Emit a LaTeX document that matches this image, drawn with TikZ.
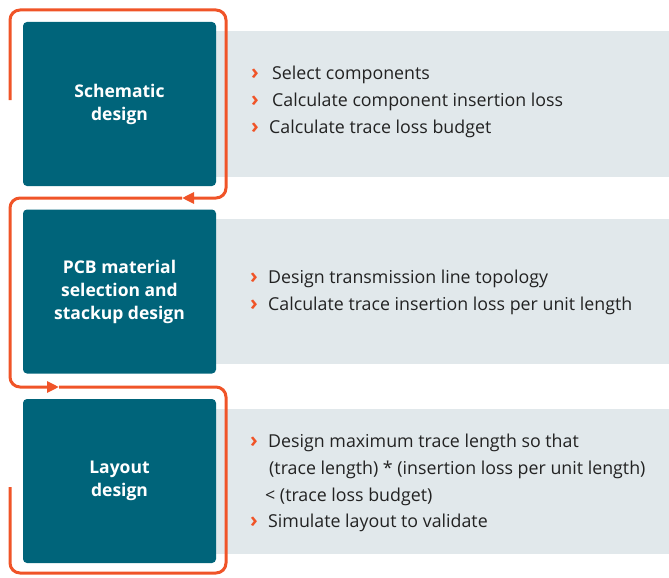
\documentclass[tikz,border=0pt]{standalone}
\usepackage{fontspec}
\setmainfont{Open Sans}
\usetikzlibrary{arrows.meta,positioning,backgrounds}
\definecolor{stepblue}{RGB}{0,100,122}
\definecolor{panelgray}{RGB}{225,232,235}
\definecolor{looporange}{RGB}{240,84,40}
\definecolor{bullettext}{RGB}{34,34,34}
\newcommand{\chev}{\makebox[18pt][l]{\textcolor{looporange}{\fontsize{21}{21}\selectfont\textbf{›}}}}

\begin{document}
\begin{tikzpicture}[
    x=1pt, y=-1pt,
    >={Triangle[length=12pt,width=11pt]},
    stepbox/.style={rectangle, rounded corners=4pt, fill=stepblue, minimum width=193pt, minimum height=164pt,
        text=white, align=center, font=\fontsize{17.5}{23}\selectfont\bfseries, inner sep=0pt},
    panel/.style={rectangle, fill=panelgray, minimum width=453pt, minimum height=145pt, inner sep=0pt},
    items/.style={anchor=west, align=left, text=bullettext, font=\fontsize{17.8}{26.8}\selectfont, inner sep=0pt},
    loop/.style={draw=looporange, line width=3pt, rounded corners=10pt}
]
    \useasboundingbox (0,0) rectangle (669,578);

    % steps
    \node[stepbox] (schem) at (119.5,104) {Schematic\\design};
    \node[stepbox] (pcb) at (119.5,291.5) {PCB material\\selection and\\stackup design};
    \node[stepbox] (layout) at (119.5,481) {Layout\\design};

    % panels behind the steps
    \begin{scope}[on background layer]
        \node[panel, right=0pt of schem] (p1) {};
        \node[panel, right=0pt of pcb] (p2) {};
        \node[panel, right=0pt of layout] (p3) {};
    \end{scope}

    \node[items] (l1) at (251,102) {\chev\hspace{3pt}Select components\\\chev\hspace{3pt}Calculate component insertion loss\\\chev Calculate trace loss budget};
    \node[items] (l2) at (250,292.5) {\chev Design transmission line topology\\\chev Calculate trace insertion loss per unit length};
    \node[items] (l3) at (250,483) {\chev Design maximum trace length so that\\\hspace{19pt}(trace length) * (insertion loss per unit length)\\\hspace{15pt}< (trace loss budget)\\\chev Simulate layout to validate};

    % loop around the steps
    \coordinate (a0) at (10,100);
    \coordinate (a1) at (182,198);
    \coordinate (b1) at (59,387);
    \coordinate (c1) at (10,487);
    \draw[loop, ->] (a0) -- (10,10) -- (226,10) -- (226,198) -- (a1);
    \draw[loop, ->] (a1) -- (10,198) -- (10,387) -- (b1);
    \draw[loop] (b1) -- (226,387) -- (226,573) -- (10,573) -- (c1);
\end{tikzpicture}
\end{document}
